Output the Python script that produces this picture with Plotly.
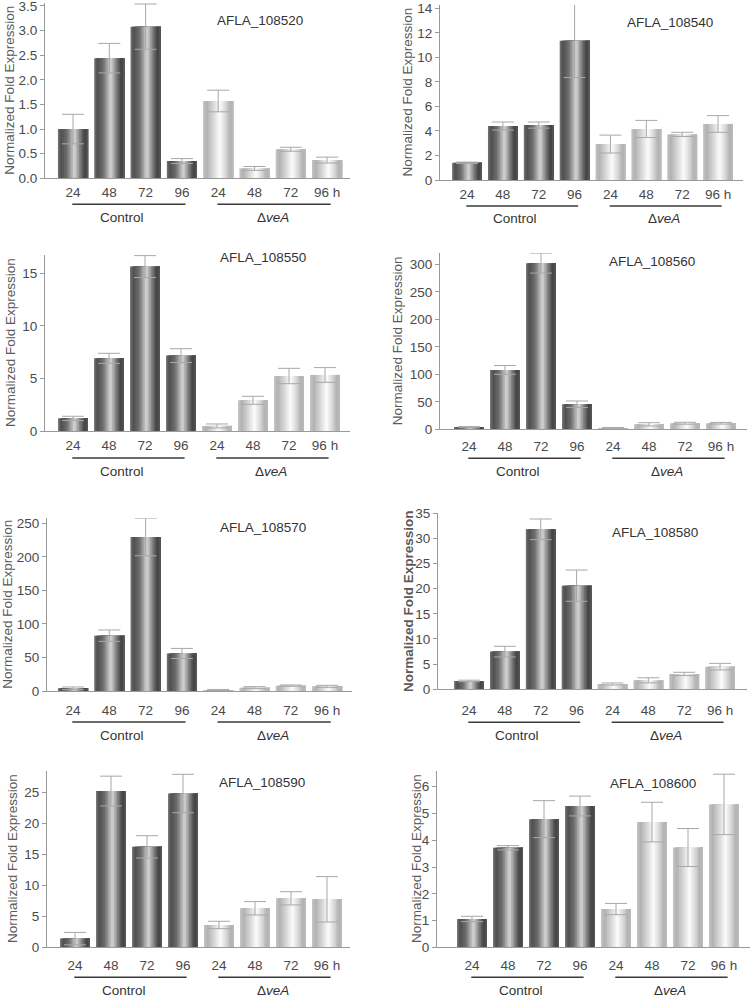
import plotly.graph_objects as go

# ---------------- data ----------------
genes = ["AFLA_108520", "AFLA_108540", "AFLA_108550", "AFLA_108560",
         "AFLA_108570", "AFLA_108580", "AFLA_108590", "AFLA_108600"]
time_labels = ["24", "48", "72", "96", "24", "48", "72", "96 h"]
group_names = ["Control", "Δ<i>veA</i>"]
y_title = "Normalized Fold Expression"

ctrl_108520 = [1.00, 2.44, 3.08, 0.35]
ctrl_err_108520 = [0.30, 0.30, 0.46, 0.05]
vea_108520 = [1.57, 0.20, 0.59, 0.37]
vea_err_108520 = [0.22, 0.04, 0.04, 0.06]

ctrl_108540 = [1.40, 4.40, 4.48, 11.36]
ctrl_err_108540 = [0.06, 0.33, 0.25, 3.00]
vea_108540 = [2.93, 4.16, 3.72, 4.57]
vea_err_108540 = [0.73, 0.70, 0.17, 0.68]

ctrl_108550 = [1.20, 6.91, 15.64, 7.17]
ctrl_err_108550 = [0.20, 0.48, 1.04, 0.66]
vea_108550 = [0.48, 2.92, 5.23, 5.33]
vea_err_108550 = [0.19, 0.38, 0.73, 0.70]

ctrl_108560 = [4.0, 108.0, 302.0, 45.5]
ctrl_err_108560 = [1.0, 8.0, 18.0, 6.0]
vea_108560 = [2.5, 9.0, 11.0, 11.0]
vea_err_108560 = [0.8, 3.0, 1.7, 1.5]

ctrl_108570 = [4.0, 82.5, 229.6, 56.0]
ctrl_err_108570 = [2.0, 8.5, 28.0, 7.5]
vea_108570 = [1.5, 5.0, 8.0, 7.0]
vea_err_108570 = [0.8, 1.5, 1.0, 1.5]

ctrl_108580 = [1.66, 7.49, 31.8, 20.6]
ctrl_err_108580 = [0.15, 1.06, 2.05, 3.10]
vea_108580 = [1.06, 1.79, 3.05, 4.50]
vea_err_108580 = [0.20, 0.50, 0.33, 0.66]

ctrl_108590 = [1.40, 25.2, 16.2, 24.8]
ctrl_err_108590 = [1.00, 2.40, 1.80, 3.10]
vea_108590 = [3.60, 6.29, 7.90, 7.74]
vea_err_108590 = [0.60, 1.08, 1.07, 3.66]

ctrl_108600 = [1.06, 3.72, 4.79, 5.28]
ctrl_err_108600 = [0.10, 0.08, 0.69, 0.37]
vea_108600 = [1.43, 4.68, 3.73, 5.34]
vea_err_108600 = [0.21, 0.74, 0.71, 1.13]

panel_data = [
    (ctrl_108520, ctrl_err_108520, vea_108520, vea_err_108520),
    (ctrl_108540, ctrl_err_108540, vea_108540, vea_err_108540),
    (ctrl_108550, ctrl_err_108550, vea_108550, vea_err_108550),
    (ctrl_108560, ctrl_err_108560, vea_108560, vea_err_108560),
    (ctrl_108570, ctrl_err_108570, vea_108570, vea_err_108570),
    (ctrl_108580, ctrl_err_108580, vea_108580, vea_err_108580),
    (ctrl_108590, ctrl_err_108590, vea_108590, vea_err_108590),
    (ctrl_108600, ctrl_err_108600, vea_108600, vea_err_108600),
]

# ---------------- layout geometry (pixels) ----------------
W, H = 750, 998
geo = [
    dict(L=45, R=350, c0=73, s=36.3, zero=178.3, top=3.0, ymax=3.56, dtick=0.5, fmt=".1f",
         ytx=10, tx=260, ty=20, lab=12, line=26),
    dict(L=440, R=743, c0=467, s=35.86, zero=180.0, top=5.0, ymax=14.27, dtick=2, fmt="d",
         ytx=407, tx=670, ty=23, lab=13, line=26),
    dict(L=45, R=350, c0=73, s=36.0, zero=431.0, top=255.0, ymax=16.74, dtick=5, fmt="d",
         ytx=10, tx=263, ty=258, lab=13, line=27),
    dict(L=440, R=747, c0=469, s=36.0, zero=429.3, top=253.3, ymax=320, dtick=50, fmt="d",
         ytx=397, tx=652, ty=262, lab=15, line=29),
    dict(L=47, R=352, c0=73, s=36.3, zero=691.0, top=518.3, ymax=257.5, dtick=50, fmt="d",
         ytx=8, tx=263, ty=527, lab=18, line=31),
    dict(L=438, R=747, c0=469, s=35.86, zero=689.3, top=512.7, ymax=35.1, dtick=5, fmt="d",
         ytx=408, tx=655, ty=532, lab=19, line=33, bold=True),
    dict(L=47, R=350, c0=75, s=36.0, zero=947.3, top=770.7, ymax=28.48, dtick=5, fmt="d",
         ytx=12, tx=262, ty=782, lab=16, line=30),
    dict(L=437, R=750, c0=472, s=36.0, zero=947.3, top=770.7, ymax=6.6, dtick=1, fmt="d",
         ytx=416, tx=653, ty=783, lab=16, line=30),
]

FONT = "Liberation Sans, Arial, Helvetica, sans-serif"
AXIS_COL = "#9a9a9a"
TXT_COL = "#4a4a4a"
ERR_COL = "#a8a8a8"
BW = 0.83
NSLICE = 20

dark_stops = [(0.0, (120, 120, 120)), (0.10, (78, 78, 78)), (0.30, (110, 110, 110)),
              (0.55, (215, 215, 215)), (0.75, (120, 120, 120)), (0.90, (62, 62, 62)),
              (1.0, (95, 95, 95))]
light_stops = [(0.0, (196, 196, 196)), (0.12, (178, 178, 178)), (0.30, (208, 208, 208)),
               (0.55, (252, 252, 252)), (0.75, (214, 214, 214)), (0.90, (176, 176, 176)),
               (1.0, (190, 190, 190))]


def grad(stops, t):
    for (t0, c0), (t1, c1) in zip(stops[:-1], stops[1:]):
        if t0 <= t <= t1:
            f = (t - t0) / (t1 - t0)
            c = [round(a + (b - a) * f) for a, b in zip(c0, c1)]
            return "rgb(%d,%d,%d)" % tuple(c)
    return "rgb(%d,%d,%d)" % stops[-1][1]


def px_x(p):
    return p / W


def px_y(p):
    return 1 - p / H


fig = go.Figure()
shapes = []
annotations = []

for i, ((ctrl, cerr, vea, verr), g, gene) in enumerate(zip(panel_data, geo, genes)):
    n = i + 1
    xa = "x" if n == 1 else "x%d" % n
    ya = "y" if n == 1 else "y%d" % n
    xpos_c = [0, 1, 2, 3]
    xpos_v = [4, 5, 6, 7]
    for xs, vals, stops in ((xpos_c, ctrl, dark_stops), (xpos_v, vea, light_stops)):
        for k in range(NSLICE):
            t = (k + 0.5) / NSLICE
            start = -BW / 2 + k * BW / NSLICE
            # each slice runs to the bar's right edge; later slices paint over earlier ones
            fig.add_trace(go.Bar(
                x=xs, y=vals, xaxis=xa, yaxis=ya,
                offset=start, width=BW / 2 - start,
                marker=dict(color=grad(stops, t), line=dict(width=0)),
                hoverinfo="skip", showlegend=False))
    fig.add_trace(go.Scatter(
        x=xpos_c + xpos_v, y=ctrl + vea, xaxis=xa, yaxis=ya, mode="markers",
        marker=dict(size=2, color="rgba(0,0,0,0)"),
        error_y=dict(type="data", array=cerr + verr, color=ERR_COL, thickness=1, width=11),
        showlegend=False, hoverinfo="skip"))

    xr = [(g["L"] - g["c0"]) / g["s"], (g["R"] - g["c0"]) / g["s"]]
    ydom = [px_y(g["zero"]), px_y(g["top"])]
    fig.layout["xaxis" if n == 1 else "xaxis%d" % n] = dict(
        domain=[px_x(g["L"]), px_x(g["R"])], range=xr, anchor=ya, automargin=False,
        showline=True, linecolor=AXIS_COL, linewidth=1, showgrid=False, zeroline=False,
        tickmode="array", tickvals=list(range(8)), ticktext=time_labels, ticks="",
        tickfont=dict(family=FONT, size=13.5, color=TXT_COL), ticklabeloverflow="allow",
        ticklabelstandoff=max(0, g["lab"] - 11), fixedrange=True)
    fig.layout["yaxis" if n == 1 else "yaxis%d" % n] = dict(
        domain=ydom, range=[0, g["ymax"]], anchor=xa, automargin=False,
        showline=True, linecolor=AXIS_COL, linewidth=1, showgrid=False, zeroline=False,
        ticks="outside", ticklen=4, tickcolor=AXIS_COL, tickwidth=1,
        dtick=g["dtick"], tick0=0, tickformat=g["fmt"], ticklabeloverflow="allow",
        tickfont=dict(family=FONT, size=13.5, color=TXT_COL), fixedrange=True)

    annotations.append(dict(x=px_x(g["tx"]), y=px_y(g["ty"]), xref="paper", yref="paper",
                            text=gene, showarrow=False, xanchor="center", yanchor="middle",
                            font=dict(family=FONT, size=13.5, color="#333333")))
    ttl = "<b>%s</b>" % y_title if g.get("bold") else y_title
    annotations.append(dict(x=px_x(g["ytx"]), y=px_y((g["zero"] + g["top"]) / 2),
                            xref="paper", yref="paper", text=ttl, textangle=-90,
                            showarrow=False, xanchor="center", yanchor="middle",
                            font=dict(family=FONT, size=13.5, color="#5a5a5a")))
    line_y = px_y(g["zero"] + g["line"])
    lab_y = px_y(g["zero"] + g["line"] + 13)
    for (a, b), name, cx in (((0, 3), group_names[0], 1.35), ((4, 7), group_names[1], 5.5)):
        shapes.append(dict(type="line", xref=xa, yref="paper", x0=a - 0.02, x1=b + 0.1,
                           y0=line_y, y1=line_y, line=dict(color="#3a3a3a", width=1.5)))
        annotations.append(dict(x=cx, y=lab_y, xref=xa, yref="paper", text=name,
                                showarrow=False, xanchor="center", yanchor="middle",
                                font=dict(family=FONT, size=13.5, color="#333333")))

fig.update_layout(
    width=W, height=H, margin=dict(l=0, r=0, t=0, b=0, autoexpand=False),
    paper_bgcolor="white", plot_bgcolor="white",
    barmode="overlay", showlegend=False, hovermode=False,
    shapes=shapes, annotations=annotations,
    font=dict(family=FONT),
)

fig.write_html("out.html",
               config={"displayModeBar": False, "staticPlot": True},
               post_script="document.body.style.margin='0px';"
                           "document.body.style.overflow='hidden';")
